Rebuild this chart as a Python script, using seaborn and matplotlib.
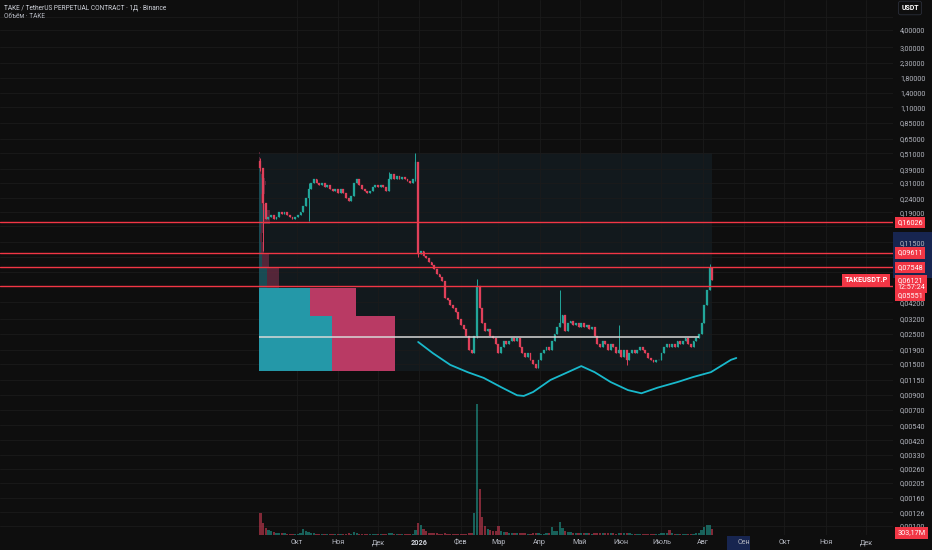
import numpy as np
import pandas as pd
import matplotlib
matplotlib.use("Agg")
import matplotlib.pyplot as plt
import matplotlib.dates as mdates
import matplotlib.transforms as mtransforms
from matplotlib.patches import Rectangle
from matplotlib.colors import to_rgba
import seaborn as sns

# ---------------- data ----------------
start_date = "2025-09-04"   # one candle = 2 days
first_open = 0.45
closes = [
    0.40, 0.22, 0.17, 0.175, 0.18, 0.17, 0.175, 0.19, 0.185, 0.19,
    0.18, 0.175, 0.17, 0.175, 0.18, 0.19, 0.21, 0.24, 0.28, 0.31,
    0.33, 0.31, 0.30, 0.31, 0.29, 0.30, 0.28, 0.27, 0.28, 0.26,
    0.28, 0.26, 0.24, 0.23, 0.25, 0.31, 0.33, 0.30, 0.28, 0.27,
    0.26, 0.27, 0.29, 0.30, 0.29, 0.30, 0.29, 0.27, 0.33, 0.36,
    0.33, 0.35, 0.33, 0.34, 0.33, 0.32, 0.31, 0.33, 0.44, 0.095,
    0.10, 0.092, 0.088, 0.082, 0.078, 0.074, 0.068, 0.064, 0.060, 0.045,
    0.044, 0.040, 0.038, 0.036, 0.032, 0.029, 0.027, 0.024, 0.019, 0.018,
    0.024, 0.055, 0.038, 0.030, 0.026, 0.027, 0.024, 0.023, 0.021, 0.018,
    0.020, 0.022, 0.021, 0.022, 0.023, 0.022, 0.023, 0.020, 0.018, 0.017,
    0.018, 0.016, 0.015, 0.014, 0.016, 0.018, 0.019, 0.020, 0.019, 0.022,
    0.025, 0.028, 0.030, 0.034, 0.026, 0.030, 0.031, 0.029, 0.030, 0.028,
    0.030, 0.028, 0.029, 0.027, 0.028, 0.024, 0.021, 0.020, 0.022, 0.021,
    0.019, 0.021, 0.020, 0.018, 0.019, 0.017, 0.019, 0.016, 0.018, 0.019,
    0.018, 0.019, 0.020, 0.019, 0.018, 0.0165, 0.016, 0.0155, 0.016, 0.016,
    0.018, 0.020, 0.021, 0.020, 0.021, 0.020, 0.022, 0.021, 0.022, 0.023,
    0.021, 0.020, 0.022, 0.023, 0.025, 0.030, 0.040, 0.052, 0.075, 0.06121,
]
volumes = [  # millions
    1100, 600, 350, 250, 180, 150, 120, 100, 90, 80,
    70, 60, 60, 50, 60, 80, 320, 180, 150, 110,
    90, 70, 60, 60, 50, 50, 45, 45, 50, 45,
    50, 45, 60, 80, 70, 160, 90, 60, 50, 45,
    40, 40, 45, 40, 40, 40, 45, 50, 110, 90,
    60, 50, 45, 45, 40, 40, 45, 60, 250, 600,
    500, 280, 180, 120, 100, 90, 80, 70, 70, 90,
    70, 60, 60, 55, 60, 60, 55, 70, 90, 110,
    1100, 6500, 2300, 900, 450, 320, 250, 220, 200, 450,
    220, 160, 130, 110, 100, 90, 85, 80, 80, 75,
    70, 70, 80, 90, 80, 70, 70, 80, 120, 420,
    180, 220, 650, 350, 220, 160, 130, 110, 100, 90,
    85, 80, 80, 75, 70, 90, 80, 75, 90, 80,
    75, 90, 80, 70, 120, 90, 80, 100, 80, 70,
    65, 60, 60, 60, 55, 55, 55, 60, 55, 60,
    80, 90, 80, 260, 90, 70, 70, 65, 65, 70,
    60, 60, 70, 80, 120, 250, 420, 480, 520, 303.17,
]
# candles with long wicks: index, low, high
wick_idx = [0, 1, 18, 48, 58, 59, 81, 112, 134, 137, 168]
wick_low = [0.38, 0.10, 0.165, 0.27, 0.32, 0.09, 0.023, 0.028, 0.018, 0.0148, 0.052]
wick_high = [0.47, 0.40, 0.31, 0.37, 0.51, 0.44, 0.062, 0.052, 0.029, 0.019, 0.080]

level_prices = [0.16026, 0.09611, 0.07548, 0.05551]
level_labels = ["0,16026", "0,09611", "0,07548", "0,05551"]
level_label_pos = [0.16026, 0.09611, 0.07548, 0.0474]
support_price = 0.0236

curve_dates = ["2025-12-31", "2026-01-11", "2026-01-24", "2026-02-06", "2026-02-18",
               "2026-03-03", "2026-03-15", "2026-03-20", "2026-03-27", "2026-04-09",
               "2026-04-22", "2026-05-02", "2026-05-12", "2026-05-24", "2026-06-06",
               "2026-06-16", "2026-06-28", "2026-07-13", "2026-07-25", "2026-08-07",
               "2026-08-22", "2026-08-26"]
curve_prices = [0.0217, 0.0180, 0.0148, 0.0131, 0.0119,
                0.0102, 0.0089, 0.0088, 0.0094, 0.0115,
                0.0131, 0.0145, 0.0131, 0.0111, 0.0097,
                0.0092, 0.0101, 0.0111, 0.0121, 0.0131,
                0.0161, 0.0166]

# fixed range volume profile (rows from the bottom), up / down volume
vp_up = [73, 51, 8, 3, 2, 1, 2, 5, 6, 3, 2, 2, 3, 3, 4, 3, 2, 1, 1, 1, 1, 0, 0, 0, 0]
vp_down = [63, 46, 12, 7, 3, 2, 2, 6, 5, 3, 2, 2, 3, 3, 3, 3, 2, 1, 1, 1, 1, 1, 1, 0, 1]
vp_in_value_area = [True, True] + [False] * 23

price_ticks = [4.0, 3.0, 2.3, 1.8, 1.4, 1.1, 0.85, 0.65, 0.51, 0.39, 0.31, 0.24, 0.19,
               0.115, 0.042, 0.032, 0.025, 0.019, 0.015, 0.0115, 0.009, 0.007, 0.0054,
               0.0042, 0.0033, 0.0026, 0.00205, 0.0016, 0.00126, 0.001]
hidden_ticks = [5.0, 0.15, 0.09, 0.07, 0.055]
month_ticks = ["2025-10-01", "2025-11-01", "2025-12-01", "2026-01-01", "2026-02-01",
               "2026-03-01", "2026-04-01", "2026-05-01", "2026-06-01", "2026-07-01",
               "2026-08-01", "2026-09-01", "2026-10-01", "2026-11-01", "2026-12-01"]
month_labels = ["Окт", "Ноя", "Дек", "2026", "Фев", "Мар", "Апр", "Май", "Июн",
                "Июль", "Авг", "Сен", "Окт", "Ноя", "Дек"]

# ---------------- style ----------------
BG = "#0e0e0e"
GRID = "#1b1b1b"
TXT = "#b2b5be"
UP = "#22a69a"
DOWN = "#e0405a"
LEVEL = "#f23645"
VP_UP = "#2498a8"
VP_DOWN = "#b93a64"

sns.set_theme(style="dark", rc={"axes.facecolor": BG, "figure.facecolor": BG})
plt.rcParams["font.family"] = ["Roboto", "DejaVu Sans"]

fig = plt.figure(figsize=(9.32, 5.5), dpi=100)
ax = fig.add_axes([0, 15 / 550, 893 / 932, 535 / 550])
ax.set_yscale("log")
ax.set_ylim(0.00086, 6.61)
oct1 = pd.Timestamp("2025-10-01")
ax.set_xlim(mdates.date2num(oct1 - pd.Timedelta(days=221.8)),
            mdates.date2num(oct1 + pd.Timedelta(days=446.2)))
for s in ax.spines.values():
    s.set_visible(False)

# candles
dates = mdates.date2num(pd.date_range(start_date, periods=len(closes), freq="2D"))
c = np.array(closes)
o = np.array([first_open] + closes[:-1])
hi = np.maximum(o, c)
lo = np.minimum(o, c)
for i, l, h in zip(wick_idx, wick_low, wick_high):
    lo[i] = l
    hi[i] = h
cols = [UP if cc >= oo else DOWN for oo, cc in zip(o, c)]

# volume profile box
box_x0 = mdates.date2num(pd.Timestamp("2025-09-03"))
box_x1 = mdates.date2num(pd.Timestamp("2026-08-08"))
vp_bottom, vp_row = 0.0133, 0.0203
ax.fill_between([box_x0, box_x1], vp_bottom, 0.51, color="#12191d", lw=0, zorder=0.5)
scale = 0.30 * (box_x1 - box_x0) / max(u + d for u, d in zip(vp_up, vp_down))
rows = vp_bottom + vp_row * np.arange(len(vp_up))
up_w = np.array(vp_up) * scale
dn_w = np.array(vp_down) * scale
alphas = [1.0 if v else 0.4 for v in vp_in_value_area]
ax.barh(rows, up_w, height=vp_row, left=box_x0, align="edge",
        color=[to_rgba(VP_UP, a) for a in alphas], lw=0, zorder=1)
ax.barh(rows, dn_w, height=vp_row, left=box_x0 + up_w, align="edge",
        color=[to_rgba(VP_DOWN, a) for a in alphas], lw=0, zorder=1)

ax.vlines(dates, lo, hi, colors=cols, lw=0.7, zorder=2)
ax.bar(dates, np.abs(c - o), bottom=np.minimum(o, c), width=1.4,
       color=cols, edgecolor=cols, lw=0.2, zorder=2)

# horizontal levels
for p in level_prices:
    ax.axhline(p, color=LEVEL, lw=1.0, zorder=3)
ax.hlines(support_price, box_x0, mdates.date2num(pd.Timestamp("2026-07-29")),
          color="#d8d8d8", lw=1.1, zorder=3)

# drawn curve
sns.lineplot(x=mdates.date2num(pd.to_datetime(curve_dates)), y=curve_prices, ax=ax,
             color="#19b9cc", lw=1.3, sort=False, estimator=None, zorder=3)

# volume pane
ax2 = ax.twinx()
ax2.set_ylim(0, 26500)
vcols = [to_rgba(col, 0.55) for col in cols]
ax2.bar(dates, volumes, width=1.7, color=vcols, lw=0)
ax2.yaxis.set_visible(False)
ax2.grid(False)
for s in ax2.spines.values():
    s.set_visible(False)

# axes ticks
ax.yaxis.tick_right()
ax.set_yticks(price_ticks)
ax.set_yticklabels([f"{v:.5f}".replace(".", ",") for v in price_ticks])
ax.set_yticks(hidden_ticks, minor=True)
ax.yaxis.set_minor_formatter(plt.NullFormatter())
ax.set_xticks(mdates.date2num(pd.to_datetime(month_ticks)))
ax.set_xticklabels(month_labels)
ax.tick_params(axis="y", which="both", length=0, pad=5, labelsize=5.2, colors=TXT)
ax.tick_params(axis="x", length=0, pad=3, labelsize=5.2, colors=TXT)
for t in ax.get_xticklabels():
    if t.get_text() == "2026":
        t.set_fontweight("bold")
        t.set_color("#d1d4dc")
ax.grid(True, which="both", color=GRID, lw=0.6)
ax.set_axisbelow(True)

# price labels on the axis
tr = mtransforms.blended_transform_factory(ax.transAxes, ax.transData)
lab = dict(fontsize=5.2, color="white", va="center", transform=tr, clip_on=False,
           bbox=dict(boxstyle="square,pad=0.3", fc=LEVEL, ec="none"))
ax.text(1.005, 0.0574, "0,06121\n12:57:24", ha="left", linespacing=1.0, zorder=10, **lab)
for p, t in zip(level_label_pos, level_labels):
    ax.text(1.005, p, t, ha="left", zorder=11, **lab)
ax.text(0.994, 0.0612, "TAKEUSDT.P", ha="right", fontweight="bold", zorder=10, **lab)
ax.text(1.005, 0.00089, "303,17M", ha="left", zorder=11, **lab)

# highlight bands on the axes
fig.patches.append(Rectangle((893 / 932, 1 - 278 / 550), 39 / 932, 46 / 550,
                             transform=fig.transFigure, fc="#172550", ec="none", zorder=-1))
fig.patches.append(Rectangle((727 / 932, 0), 23 / 932, 14 / 550,
                             transform=fig.transFigure, fc="#172550", ec="none", zorder=-1))

# header
fig.text(4 / 932, 1 - 8 / 550, "TAKE / TetherUS PERPETUAL CONTRACT · 1Д · Binance",
         fontsize=4.7, color="#d1d4dc", va="center")
fig.text(4 / 932, 1 - 16 / 550, "Объём · TAKE", fontsize=4.7, color=TXT, va="center")
fig.text(910 / 932, 1 - 8 / 550, "USDT", fontsize=5, color="white", fontweight="bold",
         ha="center", va="center",
         bbox=dict(boxstyle="round,pad=0.4,rounding_size=0.3", fc=BG, ec="#2a2e39", lw=0.6))

fig.savefig("out.png", dpi=100, facecolor=BG)
